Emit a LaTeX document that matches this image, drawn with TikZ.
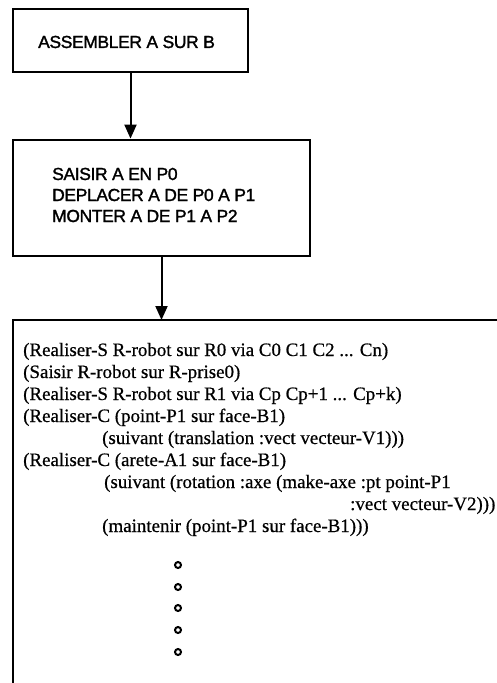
\documentclass[tikz,border=0pt]{standalone}
\usepackage{fontspec}
\setmainfont{Liberation Serif}[FakeBold=0.6]
\newfontfamily\boxsans{Liberation Sans}[FakeBold=1.6, LetterSpace=-2]
\usetikzlibrary{arrows.meta}
\tikzset{
  box/.style={draw=black, line width=2.8bp, inner sep=0pt},
  sanstxt/.style={font=\boxsans\fontsize{17.5}{20}\selectfont, inner sep=0pt, anchor=base west},
  code/.style={font=\fontsize{19}{22}\selectfont, inner sep=0pt, anchor=base west},
  link/.style={line width=2bp, -{Triangle[width=12bp,length=14bp]}},
  dot/.style={circle, draw=black, line width=2bp, minimum size=6bp, inner sep=0pt}
}
\begin{document}
\begin{tikzpicture}[x=1bp,y=-1bp]
\useasboundingbox (0,0) rectangle (497,683);
% box 1
\node[box, minimum width=235bp, minimum height=63bp] (box1) at (130.5,40.5) {};
\node[sanstxt] (t1) at (38,48) {ASSEMBLER A SUR B};
% box 2
\node[box, minimum width=297bp, minimum height=116bp] (box2) at (161.5,198) {};
\node[sanstxt] (t2a) at (52,180) {SAISIR A EN P0};
\node[sanstxt] (t2b) at (52,201) {DEPLACER A DE P0 A P1};
\node[sanstxt] (t2c) at (52,222) {MONTER A DE P1 A P2};
% box 3 (open on right and bottom)
\coordinate (b3tl) at (13,320);
\coordinate (b3tr) at (500,320);
\coordinate (b3bl) at (13,686);
\coordinate (b3in) at (box2.south |- b3tl);
\draw[line width=2.8bp] (b3tr) -- (b3tl) -- (b3bl);
% connectors
\draw[link] (box1.south) -- (box1.south |- box2.north);
\draw[link] (box2.south) -- (b3in);
% code text
\node[code] (l1) at (23,356) {(Realiser-S R-robot sur R0 via C0 C1 C2 ... Cn)};
\node[code] (l2) at (23,378) {(Saisir R-robot sur R-prise0)};
\node[code] (l3) at (23,400) {(Realiser-S R-robot sur R1 via Cp Cp+1 ... Cp+k)};
\node[code] (l4) at (23,422) {(Realiser-C (point-P1 sur face-B1)};
\node[code] (l5) at (102,444) {(suivant (translation :vect vecteur-V1)))};
\node[code] (l6) at (23,466) {(Realiser-C (arete-A1 sur face-B1)};
\node[code] (l7) at (104,488) {(suivant (rotation :axe (make-axe :pt point-P1};
\node[code] (l8) at (350,510) {:vect vecteur-V2)))};
\node[code] (l9) at (102,532) {(maintenir (point-P1 sur face-B1)))};
% dots
\foreach \i/\yy in {1/565,2/587,3/608,4/630,5/652}
  \node[dot] (d\i) at (178,\yy) {};
\end{tikzpicture}
\end{document}
